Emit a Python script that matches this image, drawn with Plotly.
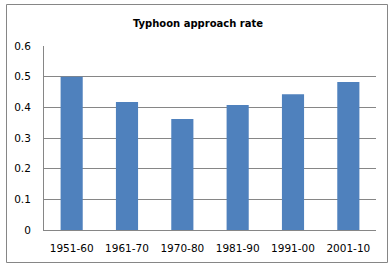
import plotly.graph_objects as go

categories = ["1951-60", "1961-70", "1970-80", "1981-90", "1991-00", "2001-10"]
rates = [0.50, 0.417, 0.362, 0.408, 0.443, 0.483]
y_ticks = [0, 0.1, 0.2, 0.3, 0.4, 0.5, 0.6]
title_text = "Typhoon approach rate"

W, H = 391, 266
L, R, T, B = 44, 15, 46, 36
pw, ph = W - L - R, H - T - B

fig = go.Figure(go.Bar(x=categories, y=rates, marker_color="#4F81BD",
                       marker_line_width=0, width=0.4))

def px(x):
    return (x - L) / pw

def py(y):
    return (H - B - y) / ph

fig.add_shape(type="rect", xref="paper", yref="paper",
              x0=px(6.5), x1=px(387.5), y0=py(4.5), y1=py(262.5),
              line=dict(color="#868686", width=1), fillcolor="rgba(0,0,0,0)")

fig.update_layout(
    width=W, height=H,
    margin=dict(l=L, r=R, t=T, b=B, autoexpand=False),
    paper_bgcolor="white", plot_bgcolor="white",
    showlegend=False,
    font=dict(family="DejaVu Sans", size=10.5, color="black"),
    title=dict(text="<b>" + title_text + "</b>", x=198 / W, xanchor="center",
               xref="container", y=1 - 23 / H, yanchor="middle",
               font=dict(size=10, family="DejaVu Sans")),
)
fig.update_xaxes(type="category", showline=True, linecolor="#868686", linewidth=1,
                 showgrid=False, ticks="", ticklabelstandoff=8,
                 range=[-0.5, 5.5], fixedrange=True, automargin=False)
fig.update_yaxes(showline=True, linecolor="#868686", linewidth=1,
                 showgrid=True, gridcolor="#868686", gridwidth=1,
                 range=[0, 0.6], tickvals=y_ticks,
                 ticktext=[("%g" % v) for v in y_ticks],
                 ticks="", ticklabelstandoff=10, zeroline=False,
                 fixedrange=True, automargin=False)

fig.write_html("out.html", config={"displayModeBar": False},
               post_script="document.body.style.margin='0';document.body.style.overflow='hidden';")
